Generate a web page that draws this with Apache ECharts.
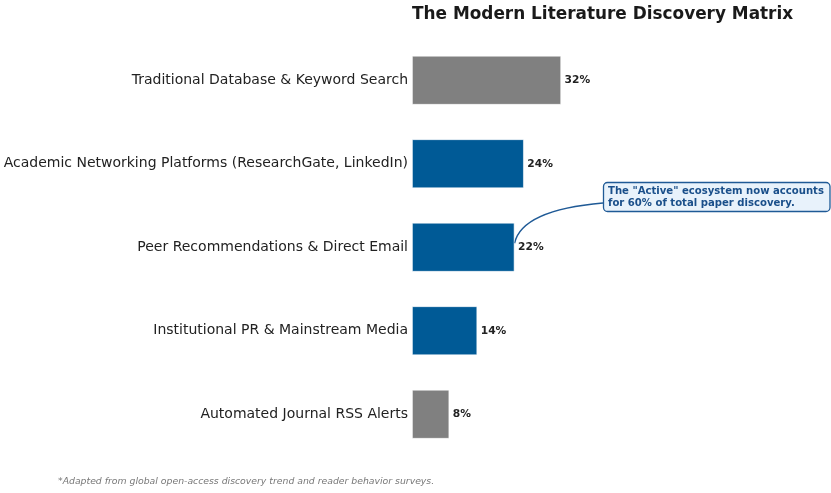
<!DOCTYPE html>
<html>
<head>
<meta charset="utf-8">
<script src="https://cdn.jsdelivr.net/npm/echarts@6/dist/echarts.min.js"></script>
<style>
  html, body { margin: 0; padding: 0; background: #fff; }
  #chart { width: 831px; height: 493px; }
</style>
</head>
<body>
<div id="chart"></div>
<script>
// 数据
var categories = [
    'Traditional Database & Keyword Search',
    'Academic Networking Platforms (ResearchGate, LinkedIn)',
    'Peer Recommendations & Direct Email',
    'Institutional PR & Mainstream Media',
    'Automated Journal RSS Alerts'
];
var shares = [32, 24, 22, 14, 8];
var isActive = [false, true, true, true, false];

var GRAY = '#808080';
var BLUE = '#005a96';
var FONT = 'DejaVu Sans';

var chart = echarts.init(document.getElementById('chart'));

var footnote = {
    type: 'text',
    left: 58,
    top: 477,
    style: {
        text: '*Adapted from global open-access discovery trend and reader behavior surveys.',
        fontFamily: FONT,
        fontSize: 9.3,
        fontStyle: 'italic',
        fill: '#777'
    }
};

var option = {
    animation: false,
    title: {
        text: 'The Modern Literature Discovery Matrix',
        left: 412,
        top: 6,
        padding: 0,
        textStyle: {
            fontFamily: FONT,
            fontSize: 16.9,
            fontWeight: 'bold',
            color: '#1a1a1a'
        }
    },
    grid: {
        left: 412,
        top: 38.5,
        width: 186.4,
        height: 417.5,
        containLabel: false,
        outerBoundsMode: 'none'
    },
    xAxis: {
        type: 'value',
        min: 0,
        max: 40,
        show: false
    },
    yAxis: {
        type: 'category',
        inverse: true,
        data: categories,
        axisLine: { show: false },
        axisTick: { show: false },
        axisLabel: {
            margin: 4,
            fontFamily: FONT,
            fontSize: 14,
            color: '#222'
        }
    },
    series: [{
        type: 'bar',
        barWidth: 49,
        data: shares.map(function (v, i) {
            return {
                value: v,
                itemStyle: { color: isActive[i] ? BLUE : GRAY }
            };
        }),
        itemStyle: {
            borderColor: 'rgba(255,255,255,0.7)',
            borderWidth: 0.8
        },
        label: {
            show: true,
            position: 'right',
            distance: 3.5,
            formatter: '{c}%',
            fontFamily: FONT,
            fontSize: 10.7,
            fontWeight: 'bold',
            color: '#222'
        }
    }],
    graphic: [footnote]
};
chart.setOption(option);

// 注释框和箭头，箭头终点取自 22% 那根柱子
var tip = chart.convertToPixel({ gridIndex: 0 }, [shares[2], 2]);
var ex = tip[0], ey = tip[1] - 4;
chart.setOption({
    graphic: [footnote, {
        type: 'bezierCurve',
        shape: { x1: 603, y1: 203, cpx1: 522, cpy1: 210, x2: ex, y2: ey },
        style: { stroke: '#1f5a96', lineWidth: 1.4, fill: null }
    }, {
        type: 'rect',
        shape: { x: 603.5, y: 182.5, width: 226.5, height: 29, r: 4 },
        style: { fill: '#e8f2fb', stroke: '#1f5a96', lineWidth: 1.3 }
    }, {
        type: 'text',
        x: 608,
        y: 185,
        style: {
            text: 'The "Active" ecosystem now accounts\nfor 60% of total paper discovery.',
            fontFamily: FONT,
            fontSize: 10.1,
            fontWeight: 'bold',
            lineHeight: 12,
            fill: '#1a4f8a'
        }
    }]
}, { replaceMerge: ['graphic'] });
</script>
</body>
</html>
